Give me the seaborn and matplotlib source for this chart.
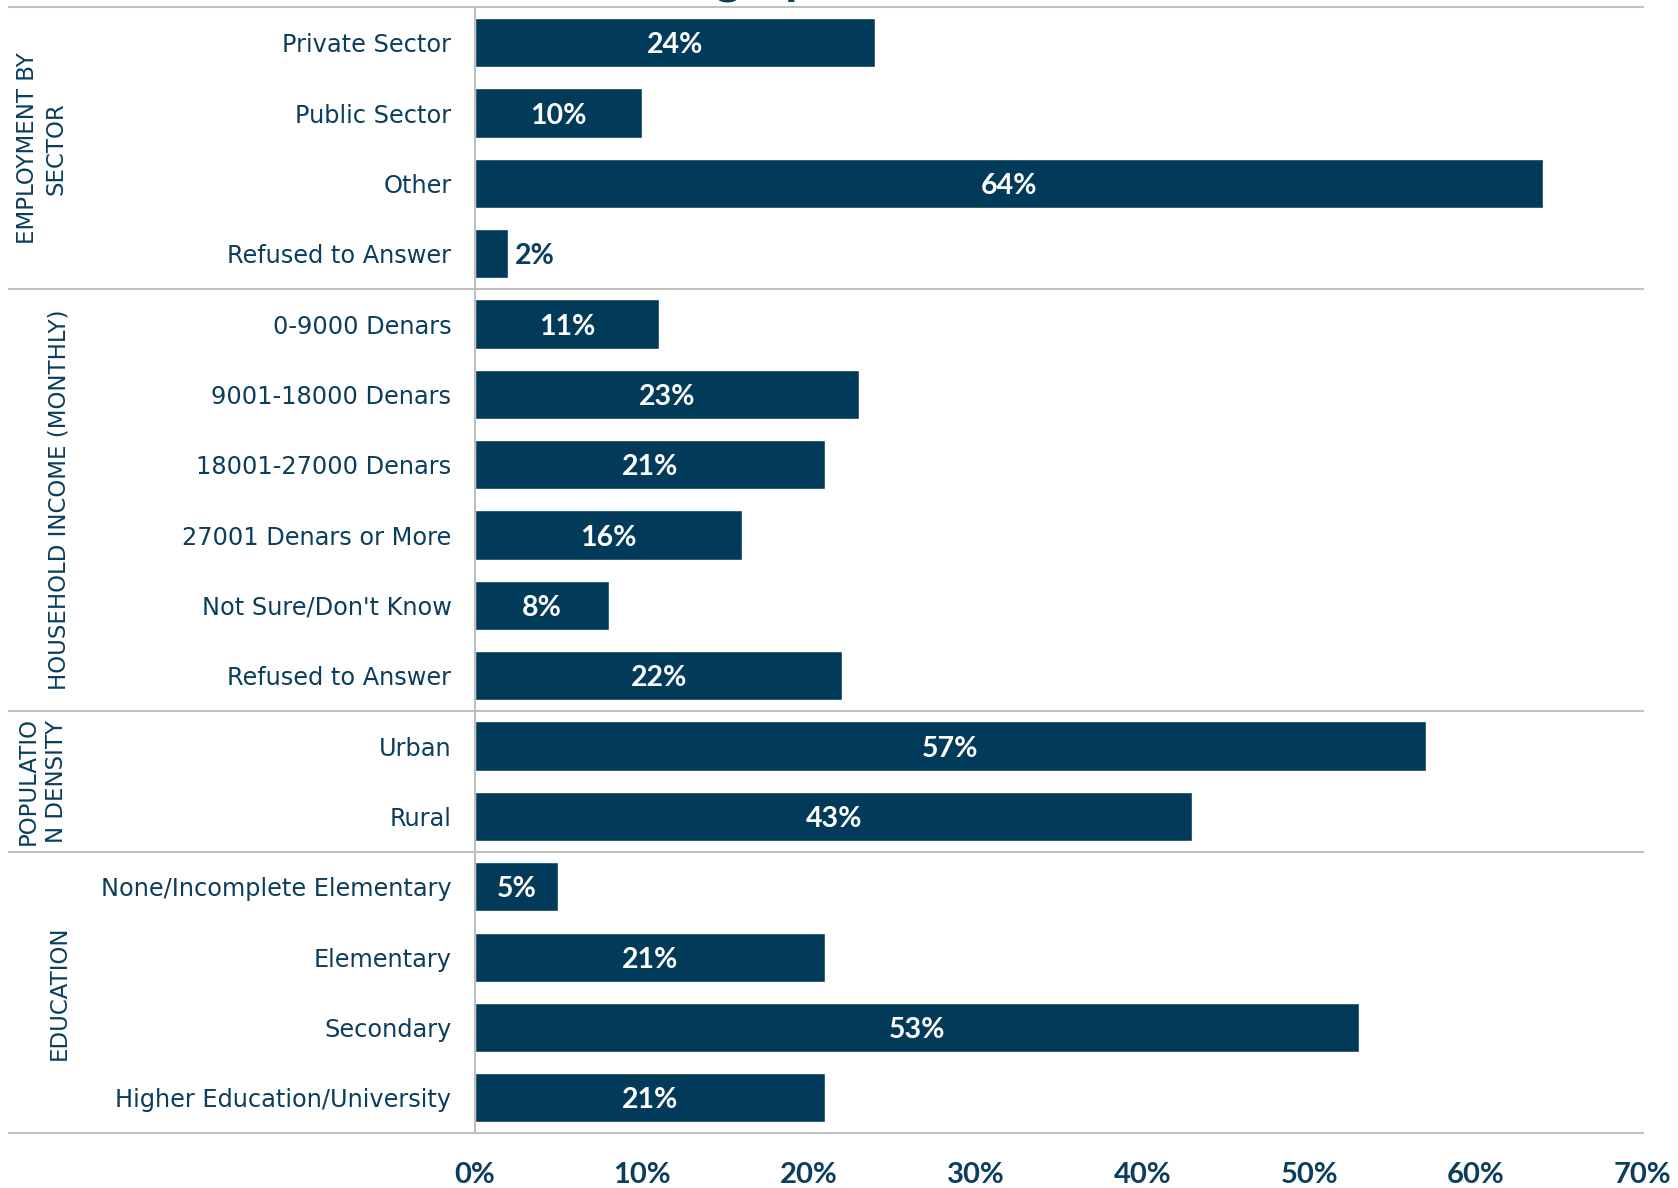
import matplotlib
matplotlib.use("Agg")
import matplotlib.pyplot as plt
import matplotlib.transforms as mtransforms
import pandas as pd
import seaborn as sns

# ==========================================================
# Data
# ==========================================================

GROUPS = [
    "EMPLOYMENT BY\nSECTOR",
    "HOUSEHOLD INCOME (MONTHLY)",
    "POPULATIO\nN DENSITY",
    "EDUCATION",
]

EMPLOYMENT = ["Private Sector", "Public Sector", "Other", "Refused to Answer"]
EMPLOYMENT_VALUES = [24, 10, 64, 2]

INCOME = ["0-9000 Denars", "9001-18000 Denars", "18001-27000 Denars",
          "27001 Denars or More", "Not Sure/Don't Know", "Refused to Answer"]
INCOME_VALUES = [11, 23, 21, 16, 8, 22]

DENSITY = ["Urban", "Rural"]
DENSITY_VALUES = [57, 43]

EDUCATION = ["None/Incomplete Elementary", "Elementary", "Secondary",
             "Higher Education/University"]
EDUCATION_VALUES = [5, 21, 53, 21]

X_TICKS = [0, 10, 20, 30, 40, 50, 60, 70]

TITLE = "Demographics"

# ==========================================================
# Style
# ==========================================================

BAR_COLOR = "#023a5a"
TEXT_COLOR = "#0b3d5c"
LINE_COLOR = "#bfbfbf"

PCT_FONT = ["Lato", "DejaVu Sans"]

sns.set_style("white")
plt.rcParams["font.family"] = ["DejaVu Sans"]

# ==========================================================
# Build table
# ==========================================================

parts = [
    (GROUPS[0], EMPLOYMENT, EMPLOYMENT_VALUES),
    (GROUPS[1], INCOME, INCOME_VALUES),
    (GROUPS[2], DENSITY, DENSITY_VALUES),
    (GROUPS[3], EDUCATION, EDUCATION_VALUES),
]

rows = []
for group, cats, vals in parts:
    for cat, val in zip(cats, vals):
        rows.append({"group": group, "category": cat,
                     "key": group + "|" + cat, "value": val})

df = pd.DataFrame(rows)

# ==========================================================
# Plot
# ==========================================================

fig = plt.figure(figsize=(16.78, 11.88), dpi=100)
ax = fig.add_axes([0.2831, 0.0463, 0.9791 - 0.2831, 0.9937 - 0.0463])

sns.barplot(
    data=df,
    x="value",
    y="key",
    order=list(df["key"]),
    color=BAR_COLOR,
    saturation=1,
    width=0.70,
    ax=ax
)

n = len(df)
ax.set_xlim(0, 70)
ax.set_ylim(n - 0.5, -0.5)

ax.set_xticks(X_TICKS)
ax.set_xticklabels([f"{t}%" for t in X_TICKS], fontsize=21,
                   fontweight="bold", color=TEXT_COLOR, family=PCT_FONT)
ax.set_yticks(range(n))
ax.set_yticklabels(df["category"], fontsize=17.3, color=TEXT_COLOR)
ax.tick_params(axis="y", length=0, pad=17)
ax.tick_params(axis="x", length=0, pad=21)
ax.set_xlabel("")
ax.set_ylabel("")

for side in ["top", "right", "bottom"]:
    ax.spines[side].set_visible(False)
ax.spines["left"].set_color(LINE_COLOR)
ax.spines["left"].set_linewidth(1.5)

# value labels
for i, val in enumerate(df["value"]):
    if val < 4:
        ax.text(val + 0.4, i, f"{val}%", ha="left", va="center_baseline",
                fontsize=20.5, fontweight="bold", color=TEXT_COLOR,
                family=PCT_FONT)
    else:
        ax.text(val / 2, i, f"{val}%", ha="center", va="center_baseline",
                fontsize=20.5, fontweight="bold", color="white",
                family=PCT_FONT)

# group separators and group labels
trans = mtransforms.blended_transform_factory(fig.transFigure, ax.transData)
x_left = 9 / 1678
x_right = 0.9791

start = 0
bounds = [-0.5]
for group, cats, vals in parts:
    end = start + len(cats)
    bounds.append(end - 0.5)
    label_x = 42 / 1678 if "\n" in group else 59 / 1678
    fig.text(label_x, (start + end - 1) / 2, group, transform=trans,
             rotation=90, ha="center", va="center", fontsize=16.5,
             color=TEXT_COLOR, linespacing=1.3, multialignment="center")
    start = end

for b in bounds:
    ax.plot([x_left, x_right], [b, b], transform=trans, color=LINE_COLOR,
            linewidth=1.5, clip_on=False)

# title, cut by the top edge as in the source
fig.text(580 / 1678, 1 + 6 / 1188, TITLE, ha="left", va="baseline",
         fontsize=36, fontweight="bold", color=TEXT_COLOR, family="Lato")

fig.savefig("out.png", dpi=100)
